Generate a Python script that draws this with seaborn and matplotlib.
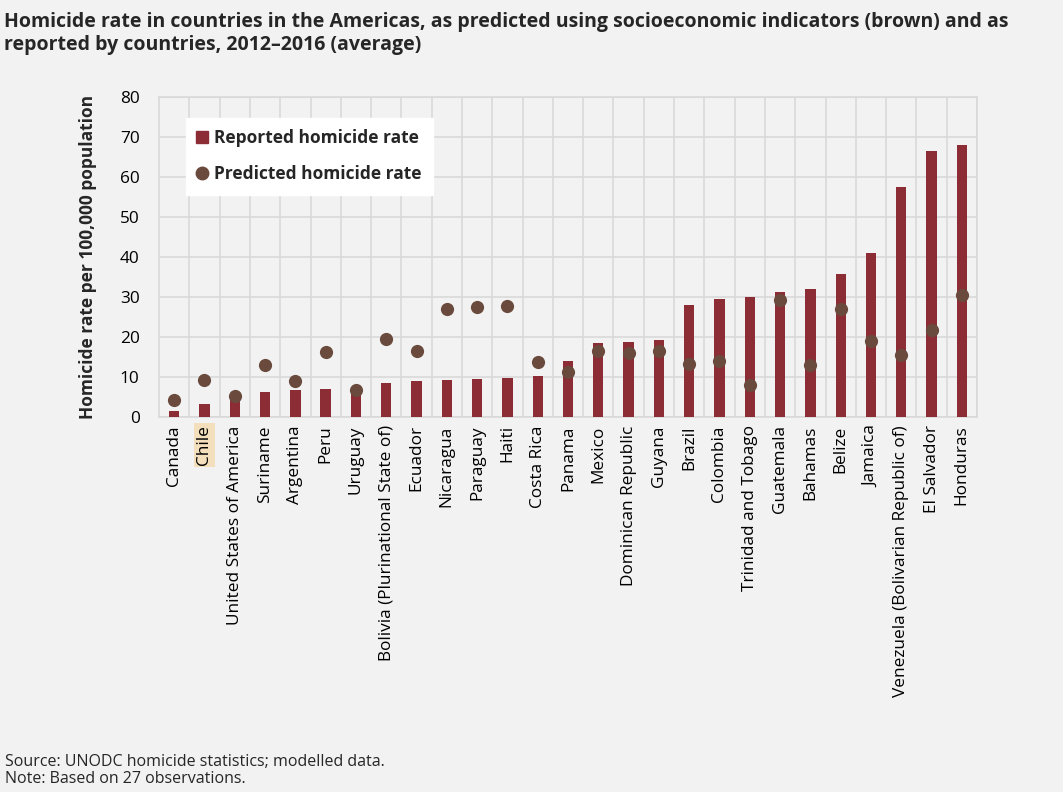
import matplotlib
matplotlib.use('Agg')
import matplotlib.pyplot as plt
from matplotlib.lines import Line2D
import seaborn as sns
import numpy as np

# ── Data ───────────────────────────────────────────────────────────
countries = ['Canada', 'Chile', 'United States of America', 'Suriname',
             'Argentina', 'Peru', 'Uruguay', 'Bolivia (Plurinational State of)',
             'Ecuador', 'Nicaragua', 'Paraguay', 'Haiti', 'Costa Rica',
             'Panama', 'Mexico', 'Dominican Republic', 'Guyana', 'Brazil',
             'Colombia', 'Trinidad and Tobago', 'Guatemala', 'Bahamas',
             'Belize', 'Jamaica', 'Venezuela (Bolivarian Republic of)',
             'El Salvador', 'Honduras']
reported = [1.6, 3.3, 5.0, 6.2, 6.8, 7.0, 7.3, 8.5, 8.9, 9.3, 9.5, 9.8, 10.3,
            13.9, 18.6, 18.7, 19.3, 28.0, 29.6, 29.9, 31.2, 32.0, 35.7, 41.1,
            57.4, 66.6, 67.9]
predicted = [4.3, 9.3, 5.3, 13.1, 9.0, 16.3, 6.8, 19.4, 16.6, 27.0, 27.4, 27.7,
             13.7, 11.2, 16.6, 16.1, 16.5, 13.3, 14.1, 8.0, 29.3, 13.0, 27.0,
             19.0, 15.6, 21.8, 30.5]
yticks = [0, 10, 20, 30, 40, 50, 60, 70, 80]
highlight = 'Chile'

BAR = '#8c2d36'
DOT = '#6a4a3c'
BG = '#f2f2f2'
GRID = '#d9d9d9'

# ── Style ──────────────────────────────────────────────────────────
sns.set_theme(style='white')
plt.rcParams['font.family'] = ['Open Sans', 'DejaVu Sans']

fig = plt.figure(figsize=(10.63, 7.92), dpi=100, facecolor=BG)
ax = fig.add_axes([0.1496, 0.4735, 0.7695, 0.404])
ax.set_facecolor(BG)

sns.barplot(x=countries, y=reported, color=BAR, width=0.34,
            saturation=1, linewidth=0, ax=ax, zorder=3)
sns.stripplot(x=countries, y=predicted, color=DOT, jitter=False,
              size=9.5, linewidth=0, ax=ax, zorder=4)

ax.set_xlim(-0.5, len(countries) - 0.5)
ax.set_ylim(0, 80)
ax.set_yticks(yticks)
ax.set_xticks(np.arange(len(countries)) + 0.5, minor=True)
ax.grid(True, axis='y', color=GRID, linewidth=1.2, zorder=0)
ax.grid(True, axis='x', which='minor', color=GRID, linewidth=1.2, zorder=0)
ax.grid(False, axis='x', which='major')
ax.set_axisbelow(True)
for s in ax.spines.values():
    s.set_color(GRID)
    s.set_linewidth(1.2)

ax.tick_params(axis='both', which='both', length=0, labelsize=12.4,
               colors='#000000')
ax.tick_params(axis='y', pad=14)
ax.tick_params(axis='x', pad=6)
ax.set_xticks(np.arange(len(countries)))
ax.set_xticklabels(countries, rotation=90, va='top', ha='center')
for lbl in ax.get_xticklabels():
    if lbl.get_text() == highlight:
        lbl.set_bbox(dict(facecolor='#f4dfbd', edgecolor='none', pad=1.5))

ax.set_ylabel('Homicide rate per 100,000 population', fontsize=12.5,
              fontweight='bold', labelpad=16)
ax.set_xlabel('')

handles = [Line2D([], [], marker='s', linestyle='none', color=BAR, markersize=9),
           Line2D([], [], marker='o', linestyle='none', color=DOT, markersize=9)]
leg = ax.legend(handles, ['Reported homicide rate', 'Predicted homicide rate'],
                loc='upper left', bbox_to_anchor=(0.022, 0.962),
                frameon=True, fancybox=False, framealpha=1,
                handlelength=0.6, handletextpad=0.4, labelspacing=1.05,
                borderpad=0.65, prop={'weight': 'bold', 'size': 12.5})
leg.get_frame().set_facecolor('white')
leg.get_frame().set_edgecolor('white')

fig.text(0.004, 0.985,
         'Homicide rate in countries in the Americas, as predicted using socioeconomic indicators (brown) and as\n'
         'reported by countries, 2012–2016 (average)',
         fontsize=14, fontweight='bold', va='top', ha='left', linespacing=1.2)

fig.text(0.005, 0.038, 'Source: UNODC homicide statistics; modelled data.',
         fontsize=11.5, va='center', ha='left')
fig.text(0.005, 0.016, 'Note: Based on 27 observations.',
         fontsize=11.5, va='center', ha='left')

fig.savefig('out.png', dpi=100, facecolor=BG)
